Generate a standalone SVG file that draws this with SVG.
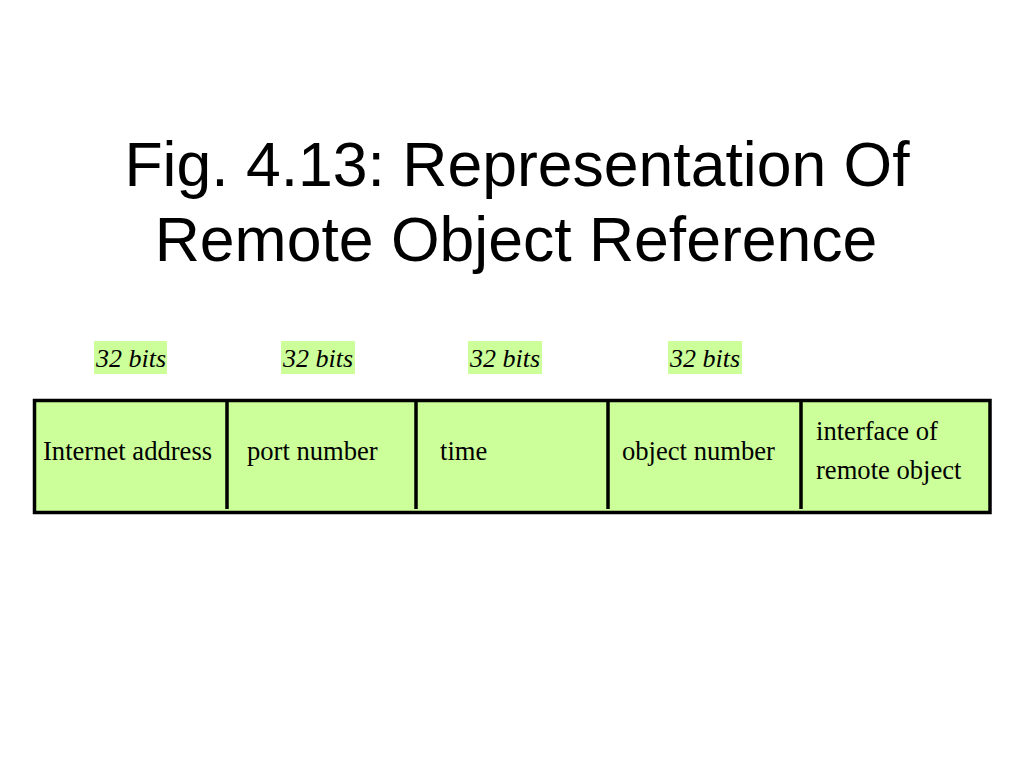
<svg xmlns="http://www.w3.org/2000/svg" width="1024" height="768" viewBox="0 0 1024 768">
<style>
.title{font-family:"Liberation Sans",Arial,sans-serif;font-size:62.5px;fill:#000;text-anchor:middle}
.cell{font-family:"Liberation Serif","Times New Roman",serif;font-size:26.6px;fill:#000}
.bits{font-family:"Liberation Serif","Times New Roman",serif;font-size:26px;font-style:italic;fill:#000}
.hl{fill:#CCFF99}
.div{stroke:#000;stroke-width:3.5}
</style>
<rect width="1024" height="768" fill="#fff"/>
<g id="title">
<text class="title" x="517" y="186">Fig. 4.13: Representation Of</text>
<text class="title" x="516" y="261">Remote Object Reference</text>
</g>
<g id="bit-labels">
<rect class="hl" x="94" y="341" width="73" height="33"/>
<text class="bits" x="96" y="367">32 bits</text>
<rect class="hl" x="281" y="341" width="74" height="33"/>
<text class="bits" x="283" y="367">32 bits</text>
<rect class="hl" x="468" y="341" width="74" height="33"/>
<text class="bits" x="470" y="367">32 bits</text>
<rect class="hl" x="668" y="341" width="74" height="33"/>
<text class="bits" x="670" y="367">32 bits</text>
</g>
<g id="record">
<rect x="34.5" y="400.5" width="955.5" height="112" fill="#CCFF99" stroke="#000" stroke-width="3.5"/>
</g>
<g id="connectors">
<line class="div" x1="227" y1="402" x2="227" y2="509"/>
<line class="div" x1="416" y1="402" x2="416" y2="509"/>
<line class="div" x1="608" y1="402" x2="608" y2="509"/>
<line class="div" x1="801" y1="402" x2="801" y2="509"/>
</g>
<g id="field-internet"><text class="cell" x="43" y="460">Internet address</text></g>
<g id="field-port"><text class="cell" x="247" y="460">port number</text></g>
<g id="field-time"><text class="cell" x="440" y="460">time</text></g>
<g id="field-object"><text class="cell" x="622" y="460">object number</text></g>
<g id="field-interface">
<text class="cell" x="816" y="440">interface of</text>
<text class="cell" x="816" y="479">remote object</text>
</g>
</svg>
